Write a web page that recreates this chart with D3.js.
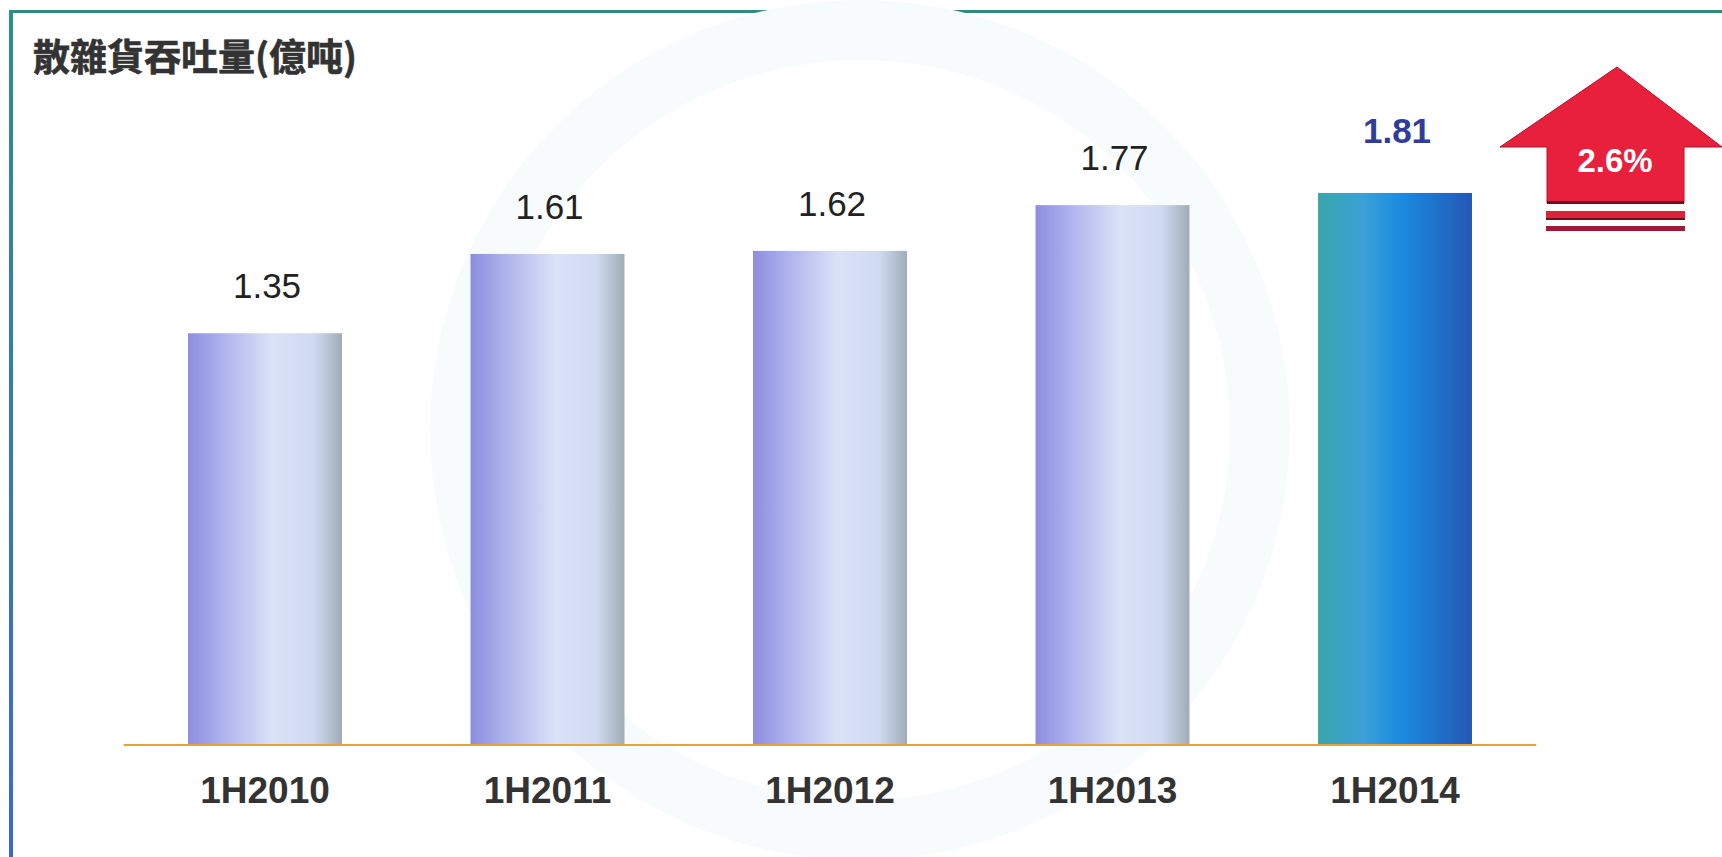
<!DOCTYPE html>
<html>
<head>
<meta charset="utf-8">
<script src="https://cdn.jsdelivr.net/npm/d3@7"></script>
<style>
  body { margin: 0; background: #fff; }
  svg { display: block; }
</style>
</head>
<body>
<div class="chart"></div>
<script>
// data
const categories = ["1H2010", "1H2011", "1H2012", "1H2013", "1H2014"];
const values = [1.35, 1.61, 1.62, 1.77, 1.81];
const valueLabels = ["1.35", "1.61", "1.62", "1.77", "1.81"];
const growthLabel = "2.6%";
const title = "散雜貨吞吐量(億吨)";

var width = 1722, height = 857;
var baseY = 745;

var svg = d3.select(".chart")
    .append("svg")
    .attr("width", width)
    .attr("height", height);

var defs = svg.append("defs");

// pale bars
var g1 = defs.append("linearGradient").attr("id", "barPale");
g1.append("stop").attr("offset", "0%").attr("stop-color", "#8d8de0");
g1.append("stop").attr("offset", "25%").attr("stop-color", "#b2b6ee");
g1.append("stop").attr("offset", "55%").attr("stop-color", "#dae2f8");
g1.append("stop").attr("offset", "82%").attr("stop-color", "#d0daf0");
g1.append("stop").attr("offset", "100%").attr("stop-color", "#9eacb8");

// highlighted bar
var g2 = defs.append("linearGradient").attr("id", "barHi");
g2.append("stop").attr("offset", "0%").attr("stop-color", "#3aa6ab");
g2.append("stop").attr("offset", "30%").attr("stop-color", "#3aa0d8");
g2.append("stop").attr("offset", "55%").attr("stop-color", "#1a8ae0");
g2.append("stop").attr("offset", "100%").attr("stop-color", "#2358b4");

var gl = defs.append("linearGradient").attr("id", "leftEdge")
    .attr("x1", 0).attr("y1", 0).attr("x2", 0).attr("y2", 1);
gl.append("stop").attr("offset", "0%").attr("stop-color", "#2e8f86");
gl.append("stop").attr("offset", "100%").attr("stop-color", "#3a68d2");

// frame
svg.append("rect")
    .attr("x", 11).attr("y", 10)
    .attr("width", width - 11).attr("height", 3)
    .attr("fill", "#2e8c7e");
svg.append("rect")
    .attr("x", 9).attr("y", 10)
    .attr("width", 4).attr("height", height - 10)
    .attr("fill", "url(#leftEdge)");

// very faint watermark
svg.append("circle")
    .attr("cx", 860).attr("cy", 430).attr("r", 400)
    .attr("fill", "none")
    .attr("stroke", "#f8fbfc")
    .attr("stroke-width", 60);

svg.append("text")
    .attr("x", 33).attr("y", 71)
    .attr("font-family", "'Noto Sans CJK TC', 'Noto Sans CJK SC', sans-serif")
    .attr("font-weight", "bold")
    .attr("font-size", 37)
    .attr("fill", "#333")
    .attr("stroke", "#333")
    .attr("stroke-width", 0.6)
    .text(title);

var x = d3.scaleBand()
    .domain(categories)
    .range([123.75, 1536.25])
    .paddingInner(0.455)
    .paddingOuter(0.2275);

var y = d3.scaleLinear()
    .domain([0, 2])
    .range([baseY, baseY - 610]);

var last = categories.length - 1;

svg.selectAll(".bar")
    .data(values)
    .enter()
    .append("rect")
    .attr("class", "bar")
    .attr("x", function(d, i) { return x(categories[i]); })
    .attr("y", function(d) { return y(d); })
    .attr("width", x.bandwidth())
    .attr("height", function(d) { return baseY - y(d); })
    .attr("fill", function(d, i) { return i == last ? "url(#barHi)" : "url(#barPale)"; });

// baseline
svg.append("line")
    .attr("x1", x.range()[0]).attr("x2", x.range()[1])
    .attr("y1", baseY).attr("y2", baseY)
    .attr("stroke", "#f0a035")
    .attr("stroke-width", 2);

// value labels
svg.selectAll(".val")
    .data(values)
    .enter()
    .append("text")
    .attr("class", "val")
    .attr("x", function(d, i) { return x(categories[i]) + x.bandwidth() / 2 + 2; })
    .attr("y", function(d, i) { return y(d) - (i == last ? 50 : 35); })
    .attr("text-anchor", "middle")
    .attr("font-family", "'Liberation Sans', Arial, sans-serif")
    .attr("font-size", 35)
    .attr("font-weight", function(d, i) { return i == last ? "bold" : "normal"; })
    .attr("fill", function(d, i) { return i == last ? "#2f3c9a" : "#222"; })
    .text(function(d, i) { return valueLabels[i]; });

// category labels
var xAxis = svg.append("g")
    .attr("transform", "translate(0," + baseY + ")")
    .call(d3.axisBottom(x).tickSize(0).tickPadding(0));
xAxis.select(".domain").remove();
xAxis.selectAll("text")
    .attr("dy", 0)
    .attr("y", 58)
    .attr("font-family", "'Liberation Sans', Arial, sans-serif")
    .attr("font-weight", "bold")
    .attr("font-size", 37)
    .attr("fill", "#333");

// growth arrow
var arrow = svg.append("g");
arrow.append("path")
    .attr("d", "M1617,67 L1722,147 L1684,147 L1684,203 L1547,203 L1547,147 L1500,147 Z")
    .attr("fill", "#e8203c")
    .attr("stroke", "#b0152c")
    .attr("stroke-width", 1);
arrow.append("rect")
    .attr("x", 1547).attr("y", 201).attr("width", 137).attr("height", 3)
    .attr("fill", "#6a1020");
arrow.append("rect")
    .attr("x", 1546).attr("y", 211).attr("width", 139).attr("height", 9)
    .attr("fill", "#e0203c");
arrow.append("rect")
    .attr("x", 1546).attr("y", 218).attr("width", 139).attr("height", 2)
    .attr("fill", "#6a1020");
arrow.append("rect")
    .attr("x", 1546).attr("y", 226).attr("width", 139).attr("height", 5)
    .attr("fill", "#a01a38");
arrow.append("text")
    .attr("x", 1615).attr("y", 172)
    .attr("text-anchor", "middle")
    .attr("font-family", "'Liberation Sans', Arial, sans-serif")
    .attr("font-weight", "bold")
    .attr("font-size", 33)
    .attr("fill", "#fff")
    .text(growthLabel);
</script>
</body>
</html>
